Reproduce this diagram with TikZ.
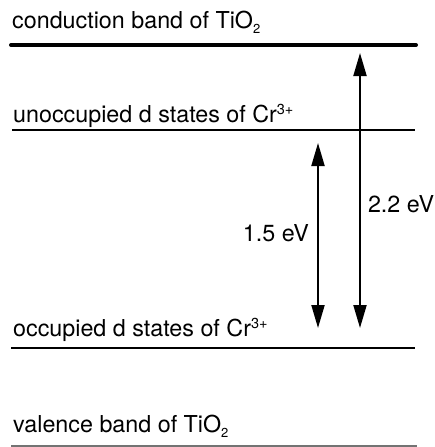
\documentclass[tikz,border=0pt]{standalone}
\usepackage{fontspec}
\setmainfont{TeX Gyre Heros}
\usetikzlibrary{arrows.meta,positioning}
\newcommand{\lowtwo}{\raisebox{-5pt}{\fontsize{13}{13}\selectfont 2}}
\newcommand{\crcharge}{\raisebox{8pt}{\fontsize{14.5}{14.5}\selectfont 3+}}
\tikzset{
    % Level label
    levellabel/.style={
        anchor=base west,
        inner sep=0pt,
        font=\fontsize{23.3}{28}\selectfont
    },
    % Energy value label
    energylabel/.style={
        inner sep=0pt,
        font=\fontsize{23.3}{28}\selectfont
    },
    % Band edge line
    bandline/.style={
        line width=4pt,
        line cap=round
    },
    % Cr state line
    stateline/.style={
        line width=2.6pt
    },
    % Valence band line
    lowline/.style={
        line width=1.4pt,
        draw=black!55
    },
    % Double arrow
    gaparrow/.style={
        {Triangle[length=23pt,width=13pt]}-{Triangle[length=23pt,width=13pt]},
        line width=2pt
    }
}
\begin{document}
\begin{tikzpicture}[x=1pt,y=-1pt]
    \useasboundingbox (0,0) rectangle (435,447);

    % Labels
    \node[levellabel] (cbtext) at (12,28) {conduction band of TiO\lowtwo};
    \node[levellabel] (untext) at (13,122) {unoccupied d states of Cr\crcharge};
    \node[levellabel] (octext) at (13,336) {occupied d states of Cr\crcharge};
    \node[levellabel] (vbtext) at (13,432) {valence band of TiO\lowtwo};

    % Levels
    \draw[bandline] (11,45) -- (416,45);
    \draw[stateline] (12,130) -- (415,130);
    \draw[stateline] (11,348) -- (415,348);
    \draw[lowline] (11,446) -- (417,446);

    % Arrow ends
    \coordinate (cbtop) at (360,53);
    \coordinate (cbbot) at (360,328);
    \coordinate (crtop) at (318,143);
    \coordinate (crbot) at (318,328);

    % Transitions
    \draw[gaparrow] (cbtop) -- node[energylabel, right=7pt, pos=0.55] (big) {2.2 eV} (cbbot);
    \draw[gaparrow] (crtop) -- node[energylabel, left=8pt, pos=0.49] (small) {1.5 eV} (crbot);
\end{tikzpicture}
\end{document}
